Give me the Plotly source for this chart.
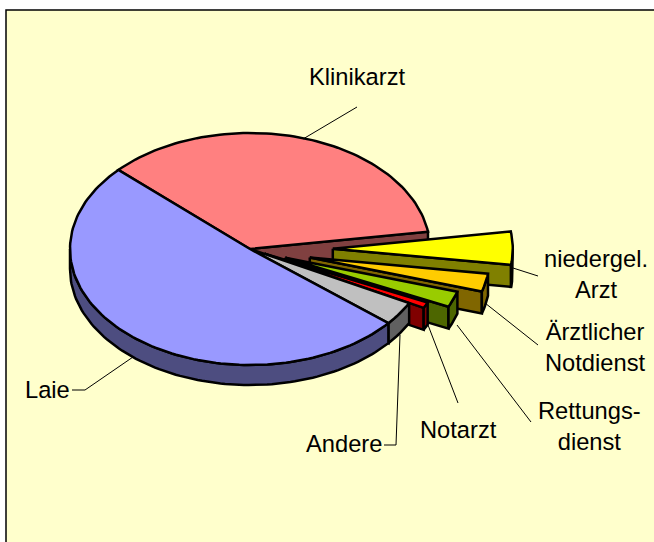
import math
import plotly.graph_objects as go

# Data (clockwise, starting from the Klinikarzt / Laie boundary)
categories = ["Klinikarzt", "niedergel. Arzt", "Ärztlicher Notdienst", "Rettungsdienst", "Notarzt", "Andere", "Laie"]
shares = [35.6, 4.6, 2.5, 2.2, 0.8, 3.3, 50.8]
explode = [0.0, 0.46, 0.34, 0.21, 0.09, 0.0, 0.0]

top_colors = ["#FF8080", "#FFFF00", "#FFCC00", "#99CC00", "#FF0000", "#C0C0C0", "#9999FF"]
wall_colors = ["#804040", "#808000", "#806600", "#4D6600", "#800000", "#606060", "#4D4D80"]
label_text = ["Klinikarzt", "niedergel.<br>Arzt", "Ärztlicher<br>Notdienst", "Rettungs-<br>dienst", "Notarzt", "Andere", "Laie"]

# Layout of the pseudo-3D pie (pixels)
W, H = 654, 542
CX, CY, RX, RY, DEPTH = 250, 249, 180, 116, 20
EXPLODED_DEPTH = 22
START = 137
label_pos = [(357, 77), (596, 274), (595, 347), (589, 426), (458, 430), (344, 444), (47, 390)]
leaders = [
    [(303, 139), (357, 107)],
    [(513, 268), (538, 276)],
    [(485, 303), (538, 345)],
    [(457, 325), (531, 422)],
    [(428, 325), (458, 403)],
    [(400, 335), (396, 445), (384, 445)],
    [(133, 357), (85, 390), (72, 390)],
]

fig = go.Figure()


def poly(points, fill, width=2.5):
    fig.add_trace(go.Scatter(
        x=[p[0] for p in points], y=[p[1] for p in points],
        mode="lines", fill="toself", fillcolor=fill,
        line=dict(color="black", width=width, shape="linear"),
        hoverinfo="skip", showlegend=False,
    ))


total = sum(shares)
angle = START
slices = []
for share, ex, top, wall in zip(shares, explode, top_colors, wall_colors):
    sweep = share / total * 360
    a0, a1 = angle, angle - sweep      # a0 > a1, clockwise
    angle = a1
    slices.append((a0, a1, ex, top, wall))


def arc_pts(a_from, a_to, ox, oy, dy=0):
    n = max(2, int(abs(a_from - a_to) / 1.5) + 2)
    out = []
    for i in range(n):
        t = math.radians(a_from + (a_to - a_from) * i / (n - 1))
        out.append((ox + RX * math.cos(t), oy - RY * math.sin(t) + dy))
    return out


for a0, a1, ex, top, wall in slices:
    mid = math.radians((a0 + a1) / 2)
    ox = CX + ex * RX * math.cos(mid)
    oy = CY - ex * RY * math.sin(mid)
    apex = (ox, oy)
    depth = EXPLODED_DEPTH if ex > 0 else DEPTH
    # radial wall at the clockwise end, if it faces the viewer
    if math.cos(math.radians(a1)) > 0:
        end = arc_pts(a1, a1, ox, oy)[0]
        poly([apex, end, (end[0], end[1] + depth), (apex[0], apex[1] + depth), apex], wall)
    # outer rim: front-facing part of the arc (angles between 180 and 360)
    lo, hi = a1 % 360, a0 % 360
    if hi < lo:
        hi += 360
    vis_from, vis_to = max(lo, 180), min(hi, 360)
    if vis_from < vis_to:
        upper = arc_pts(vis_from, vis_to, ox, oy)
        lower = arc_pts(vis_to, vis_from, ox, oy, depth)
        poly(upper + lower + [upper[0]], wall)
    # top face
    poly([apex] + arc_pts(a0, a1, ox, oy) + [apex], top)

# Leader lines
for pts in leaders:
    fig.add_trace(go.Scatter(
        x=[p[0] for p in pts], y=[p[1] for p in pts], mode="lines",
        line=dict(color="black", width=1), hoverinfo="skip", showlegend=False,
    ))

annotations = [
    dict(x=p[0], y=p[1], text=t, showarrow=False, xref="x", yref="y",
         xanchor="center", yanchor="middle", align="center",
         font=dict(family="Liberation Sans, Arial, sans-serif", size=23.7, color="black"))
    for t, p in zip(label_text, label_pos)
]

fig.update_layout(
    width=W, height=H,
    margin=dict(l=0, r=0, t=0, b=0),
    paper_bgcolor="white", plot_bgcolor="white",
    xaxis=dict(range=[0, W], visible=False, fixedrange=True),
    yaxis=dict(range=[H, 0], visible=False, fixedrange=True),
    annotations=annotations,
    shapes=[dict(type="rect", xref="x", yref="y", x0=6, y0=10, x1=W + 10, y1=H + 10,
                 fillcolor="#FFFFCC", line=dict(color="black", width=1.5), layer="below")],
)

fig.write_html("out.html", config=dict(displayModeBar=False),
               post_script="document.body.style.margin='0';document.body.style.overflow='hidden';")
